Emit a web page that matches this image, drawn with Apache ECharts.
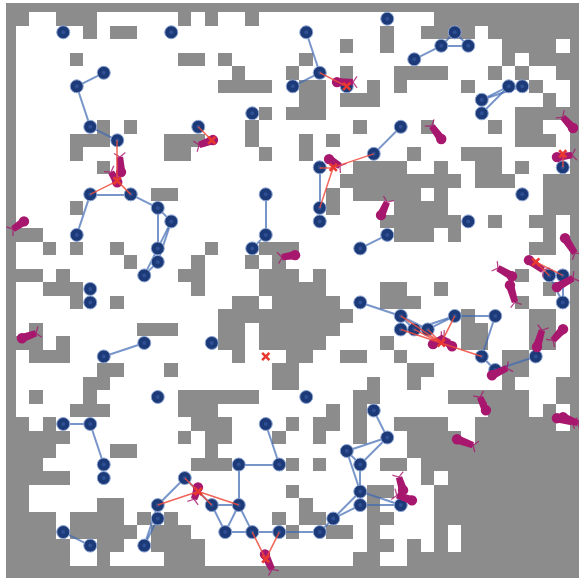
<!DOCTYPE html>
<html><head><meta charset="utf-8">
<script src="https://cdn.jsdelivr.net/npm/echarts@6/dist/echarts.min.js"></script>
<style>html,body{margin:0;padding:0;background:#fff}#c{width:579px;height:581px}#c canvas{filter:blur(.45px)}</style></head>
<body><div id="c"></div>
<script>
// occupied map: per row, the occupied column runs
const occupiedRows = [
"0-42","0,1,4-6,13,15,18,32-42","0,6,8,9,28,31-34,36-42","0,25,28,37-40,42",
"0,5,13,14,16,22,37,39-42","0,17,21,25,29-32,36,38,41,42","0,16-19,22,23,27,29,34,39,42",
"0,22,23,25-27,40,42","0,19,21-23,38-42","0,7,9,18,26,31,36,38,39,42",
"0,5-7,12-14,18,22,24,38-40,42","0,5,12,13,19,22,30,34-36,42","0,7,26-29,32,35,36,38,42",
"0,25-33,35-37,40-42","0,11,12,24,26-30,32,40-42","0,5,24,29-32,40-42",
"0,28-33,36,39,40,42","0,1,2,29-31,33,40,42","0,3,5,8,15,19-21,39,40,42",
"0,9,14,18,20,42","0,1,2,4,13,14,19-21,23,38,42","0,3-5,14,19-23,28,29,32,40,42",
"0,5,8,17,18,20-24,28-30,38,42","0,16-25,34,39,40,42","0,2,10-12,16,17,19-24,34,35,39,40,42",
"0,1,2,4,16,17,19-23,28,34,35,39,40,42","0,2-4,17,21,22,25,26,29,37,38,42","0,7,8,12,20,21,30,31,37,38,42",
"0,6,7,20,21,27,30,37,41,42","0,2,6,13-18,26,27,33-38,41,42","0,5-7,13-15,24,26,36-38,40,42",
"0,1,3,14-16,21,23,24,26,29-32,35-40,42","0-4,13,15,16,20,23,26,30-33,35-42","0-3,8,9,15,30-42",
"0-2,14-16,21,23,28,29,31-42","0-4,31,33-42","0,1,21,27,28,32-42","0,1,7,8,22,27,32-42",
"0-3,5-8,10,12,20,22,23,27,28,32-42","0-3,5-9,11-13,21,24,25,27,32,34-42",
"0-4,7,8,11-14,27,28,30,32,34-42","0-4,7,12-14,26,27,30-42","0-42"];

const nodes = [[4,2],[12,2],[7,5],[5,6],[21,6],[18,8],[6,9],[14,9],[8,10],[6,14],[9,14],[19,14],[11,15],[12,16],[5,17],[19,17],[11,18],[18,18],[11,19],[10,20],
[6,21],[6,22],[22,2],[23,5],[25,6],[28,1],[30,4],[32,3],[33,2],[34,3],[35,7],[37,6],[38,6],[35,8],[29,9],[27,11],[23,12],[23,15],[23,16],[41,12],[38,14],[34,16],[28,17],[26,18],[40,20],[41,20],
[26,22],[41,22],[29,23],[33,23],[36,23],[29,24],[30,24],[31,24],[35,26],[39,26],[36,27],[22,29],[27,30],[28,32],[25,33],[26,34],[26,36],[26,37],[29,37],[24,38],[23,39],
[10,25],[15,25],[7,26],[11,29],[4,31],[6,31],[19,31],[7,34],[17,34],[20,34],[7,35],[13,35],[11,37],[15,37],[17,37],[11,38],[4,39],[16,39],[18,39],[20,39],[6,40],[10,40]];

const blueEdges = [
[[7,5],[5,6]],[[5,6],[6,9]],[[6,9],[8,10]],[[6,14],[9,14]],[[6,14],[5,17]],[[9,14],[11,15]],[[11,15],[12,16]],[[11,15],[11,18]],[[12,16],[11,18]],[[12,16],[11,19]],[[11,18],[10,20]],[[11,19],[10,20]],
[[19,14],[19,17]],[[19,17],[18,18]],[[22,2],[23,5]],[[23,5],[21,6]],[[30,4],[32,3]],[[32,3],[33,2]],[[32,3],[34,3]],[[33,2],[34,3]],[[35,7],[37,6]],[[35,7],[38,6]],[[35,8],[37,6]],[[37,6],[38,6]],
[[29,9],[27,11]],[[23,12],[23,15]],[[28,17],[26,18]],[[40,20],[41,22]],[[41,20],[41,22]],[[40,20],[41,20]],
[[26,22],[29,23]],[[29,23],[29,24]],[[29,23],[30,24]],[[29,23],[31,24]],[[29,24],[30,24]],[[30,24],[31,24]],[[31,24],[33,23]],[[30,24],[33,23]],[[33,23],[36,23]],[[36,23],[35,26]],[[35,26],[36,27]],[[36,27],[39,26]],
[[27,30],[28,32]],[[28,32],[25,33]],[[28,32],[26,34]],[[25,33],[26,34]],[[25,33],[26,36]],[[26,34],[26,36]],[[26,36],[26,37]],[[26,36],[29,37]],[[26,37],[29,37]],[[26,36],[24,38]],[[26,37],[24,38]],[[24,38],[23,39]],[[23,39],[20,39]],
[[10,25],[7,26]],[[4,31],[6,31]],[[6,31],[7,34]],[[19,31],[20,34]],[[20,34],[17,34]],[[17,34],[17,37]],[[13,35],[11,37]],[[13,35],[15,37]],[[15,37],[17,37]],[[15,37],[16,39]],[[16,39],[17,37]],[[17,37],[18,39]],[[16,39],[18,39]],[[18,39],[20,39]],
[[11,37],[10,40]],[[11,38],[10,40]],[[11,37],[11,38]],[[4,39],[6,40]]];

const redEdges = [
[[8,13],[8,10]],[[8,13],[6,14]],[[8,13],[9,14]],[[15,10],[14,9]],[[25,6],[23,5]],[[24,12],[23,12]],[[24,12],[23,15]],[[24,12],[27,11]],[[41,11],[41,12]],
[[39,19],[40,20]],[[39,19],[41,20]],[[32,25],[29,24]],[[32,25],[30,24]],[[32,25],[31,24]],[[32,25],[33,23]],[[32,25],[35,26]],[[32,25],[29,23]],
[[14,36],[13,35]],[[14,36],[11,37]],[[14,36],[15,37]],[[14,36],[17,37]],[[19,41],[18,39]],[[19,41],[20,39]]];

const targets = [[8,13],[15,10],[25,6],[24,12],[41,11],[39,19],[32,25],[14,36],[19,26],[19,41]];

// agents: head column, head row, tail column, tail row
const agents = [
[1.09,16.0,0.28,16.57],[8.28,12.35,8.2,11.24],[8.0,13.1,7.54,12.35],[15.09,9.98,14.06,10.35],[21.17,18.5,20.2,18.65],
[32.0,9.9,31.3,8.94],[41.76,9.09,41.0,8.28],[40.57,11.24,41.69,11.09],[23.69,11.39,24.5,11.9],[27.54,15.54,27.98,14.57],
[24.28,5.69,25.46,5.69],[38.5,18.87,39.54,19.61],[37.24,20.06,36.2,19.46],[37.09,20.72,37.46,21.98],[40.57,20.87,41.76,20.2],
[41.17,17.24,41.9,18.35],[41.02,23.98,40.28,24.8],[39.09,25.3,39.46,24.06],[35.76,27.39,36.87,26.87],[35.31,29.98,34.87,29.02],
[33.17,32.13,34.35,32.57],[40.57,30.57,41.69,30.87],[41.02,30.5,42.13,30.94],[29.17,35.9,28.87,34.94],[29.83,36.65,28.72,36.28],
[31.39,25.09,32.2,24.57],[32.8,25.24,32.0,24.65],[13.98,35.69,13.69,36.57],[18.94,40.65,19.46,41.76],[0.94,24.65,1.98,24.28]];

const cells = [];
occupiedRows.forEach((s, r) => s.split(',').forEach(p => {
  const [a, b] = p.split('-').map(Number);
  for (let c = a; c <= (b === undefined ? a : b); c++) cells.push([c, r]);
}));

const GRAY = '#8c8c8c', AGENT = '#a8176e';
const chart = echarts.init(document.getElementById('c'), null, {renderer: 'canvas'});
const toLines = e => e.map(p => ({coords: p}));
chart.setOption({
  animation: false,
  backgroundColor: '#fff',
  grid: {left: 6, top: 3, width: 573, height: 575},
  xAxis: {type: 'value', min: -0.2407, max: 42.2037, show: false},
  yAxis: {type: 'value', inverse: true, min: -0.1667, max: 42.4, show: false},
  series: [
    {type: 'custom', coordinateSystem: 'cartesian2d', clip: true, z: 1, silent: true, data: cells,
     encode: {x: 0, y: 1},
     renderItem(p, api) {
       const a = api.coord([api.value(0) - .5, api.value(1) - .5]).map(Math.round);
       const b = api.coord([api.value(0) + .5, api.value(1) + .5]).map(Math.round);
       return {type: 'rect', shape: {x: a[0], y: a[1], width: b[0] - a[0], height: b[1] - a[1]},
               style: {fill: GRAY}};
     }},
    {type: 'lines', coordinateSystem: 'cartesian2d', z: 2, silent: true, data: toLines(blueEdges),
     lineStyle: {color: '#3f68b4', width: 2, opacity: .7}},
    {type: 'scatter', z: 3, silent: true, data: nodes, symbol: 'circle', symbolSize: 13,
     itemStyle: {color: '#1c3a78', borderColor: '#8ea6d4', borderWidth: 1, opacity: 1}},
    {type: 'scatter', z: 4, silent: true, data: nodes, symbol: 'circle', symbolSize: 4,
     itemStyle: {color: '#2e4f94', opacity: 1}},
    {type: 'custom', coordinateSystem: 'cartesian2d', clip: true, z: 5, silent: true, data: agents,
     encode: {x: 0, y: 1},
     renderItem(p, api) {
       const h = api.coord([api.value(0), api.value(1)]);
       const t = api.coord([api.value(2), api.value(3)]);
       const dx = t[0] - h[0], dy = t[1] - h[1], L = Math.hypot(dx, dy) || 1;
       const ux = dx / L, uy = dy / L, nx = -uy, ny = ux;
       const w0 = 4.2, w1 = 3.2, pr = 7, cs = Math.cos(.95), sn = Math.sin(.95);
       const prong = s => ({type: 'line',
         shape: {x1: t[0], y1: t[1], x2: t[0] + pr * (ux * cs + s * nx * sn), y2: t[1] + pr * (uy * cs + s * ny * sn)},
         style: {stroke: AGENT, lineWidth: 1.3, opacity: .8}});
       return {type: 'group', children: [
         {type: 'polygon', shape: {points: [
           [h[0] + nx * w0, h[1] + ny * w0], [t[0] + nx * w1, t[1] + ny * w1],
           [t[0] - nx * w1, t[1] - ny * w1], [h[0] - nx * w0, h[1] - ny * w0]]}, style: {fill: AGENT}},
         {type: 'circle', shape: {cx: h[0], cy: h[1], r: 5.2}, style: {fill: AGENT}},
         prong(1), prong(-1)]};
     }},
    {type: 'lines', coordinateSystem: 'cartesian2d', z: 6, silent: true, data: toLines(redEdges),
     lineStyle: {color: '#ee4b3c', width: 1.5, opacity: .85}},
    {type: 'scatter', z: 7, silent: true, data: targets,
     symbol: 'path://M2,0 L5,3 L8,0 L10,2 L7,5 L10,8 L8,10 L5,7 L2,10 L0,8 L3,5 L0,2 Z', symbolSize: 9,
     itemStyle: {color: '#e8382f', opacity: 1}}
  ]
});
</script></body></html>
